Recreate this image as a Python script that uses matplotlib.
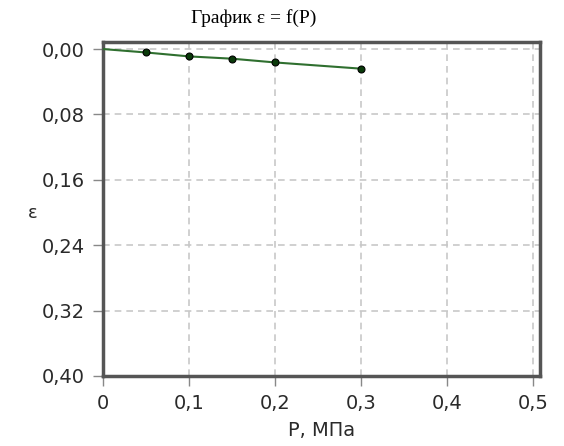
import matplotlib.pyplot as plt

# data
p_vals = [0.0, 0.05, 0.1, 0.15, 0.2, 0.3]
eps_vals = [0.0, 0.0042, 0.009, 0.0118, 0.0164, 0.024]

x_ticks = [0, 0.1, 0.2, 0.3, 0.4, 0.5]
x_labels = ['0', '0,1', '0,2', '0,3', '0,4', '0,5']
y_ticks = [0.0, 0.08, 0.16, 0.24, 0.32, 0.40]
y_labels = ['0,00', '0,08', '0,16', '0,24', '0,32', '0,40']

fig = plt.figure(figsize=(5.64, 4.46), dpi=100)
ax = fig.add_axes([0.1826, 0.157, 0.7748, 0.7488])

ax.plot(p_vals, eps_vals, color='#2f6f2f', lw=1.5, zorder=3)
ax.plot(p_vals[1:], eps_vals[1:], 'o', ms=5, color='#0a3a0a',
        mec='black', mew=0.8, zorder=4)

ax.set_xlim(0, 0.508)
ax.set_ylim(0.40, -0.0086)

ax.set_xticks(x_ticks)
ax.set_xticklabels(x_labels)
ax.set_yticks(y_ticks)
ax.set_yticklabels(y_labels)

ax.grid(True, ls=(0, (4, 3)), color='#c8c8c8', lw=1.2)
ax.set_axisbelow(True)
for s in ax.spines.values():
    s.set_color('#555555')
    s.set_linewidth(2.5)
ax.tick_params(direction='out', length=7, width=1, color='#888888',
               labelsize=14, labelcolor='#2a2a2a', pad=6)

ax.set_xlabel('P, МПа', fontsize=14, color='#2a2a2a', labelpad=6)
fig.text(33 / 564, 1 - 213 / 446, 'ε', fontsize=13, color='#2a2a2a',
         ha='center', va='center')
fig.text(254 / 564, 1 - 18 / 446, 'График ε = f(P)', fontsize=14,
         family='Liberation Serif', ha='center', va='center')

fig.savefig('out.png', dpi=100)
